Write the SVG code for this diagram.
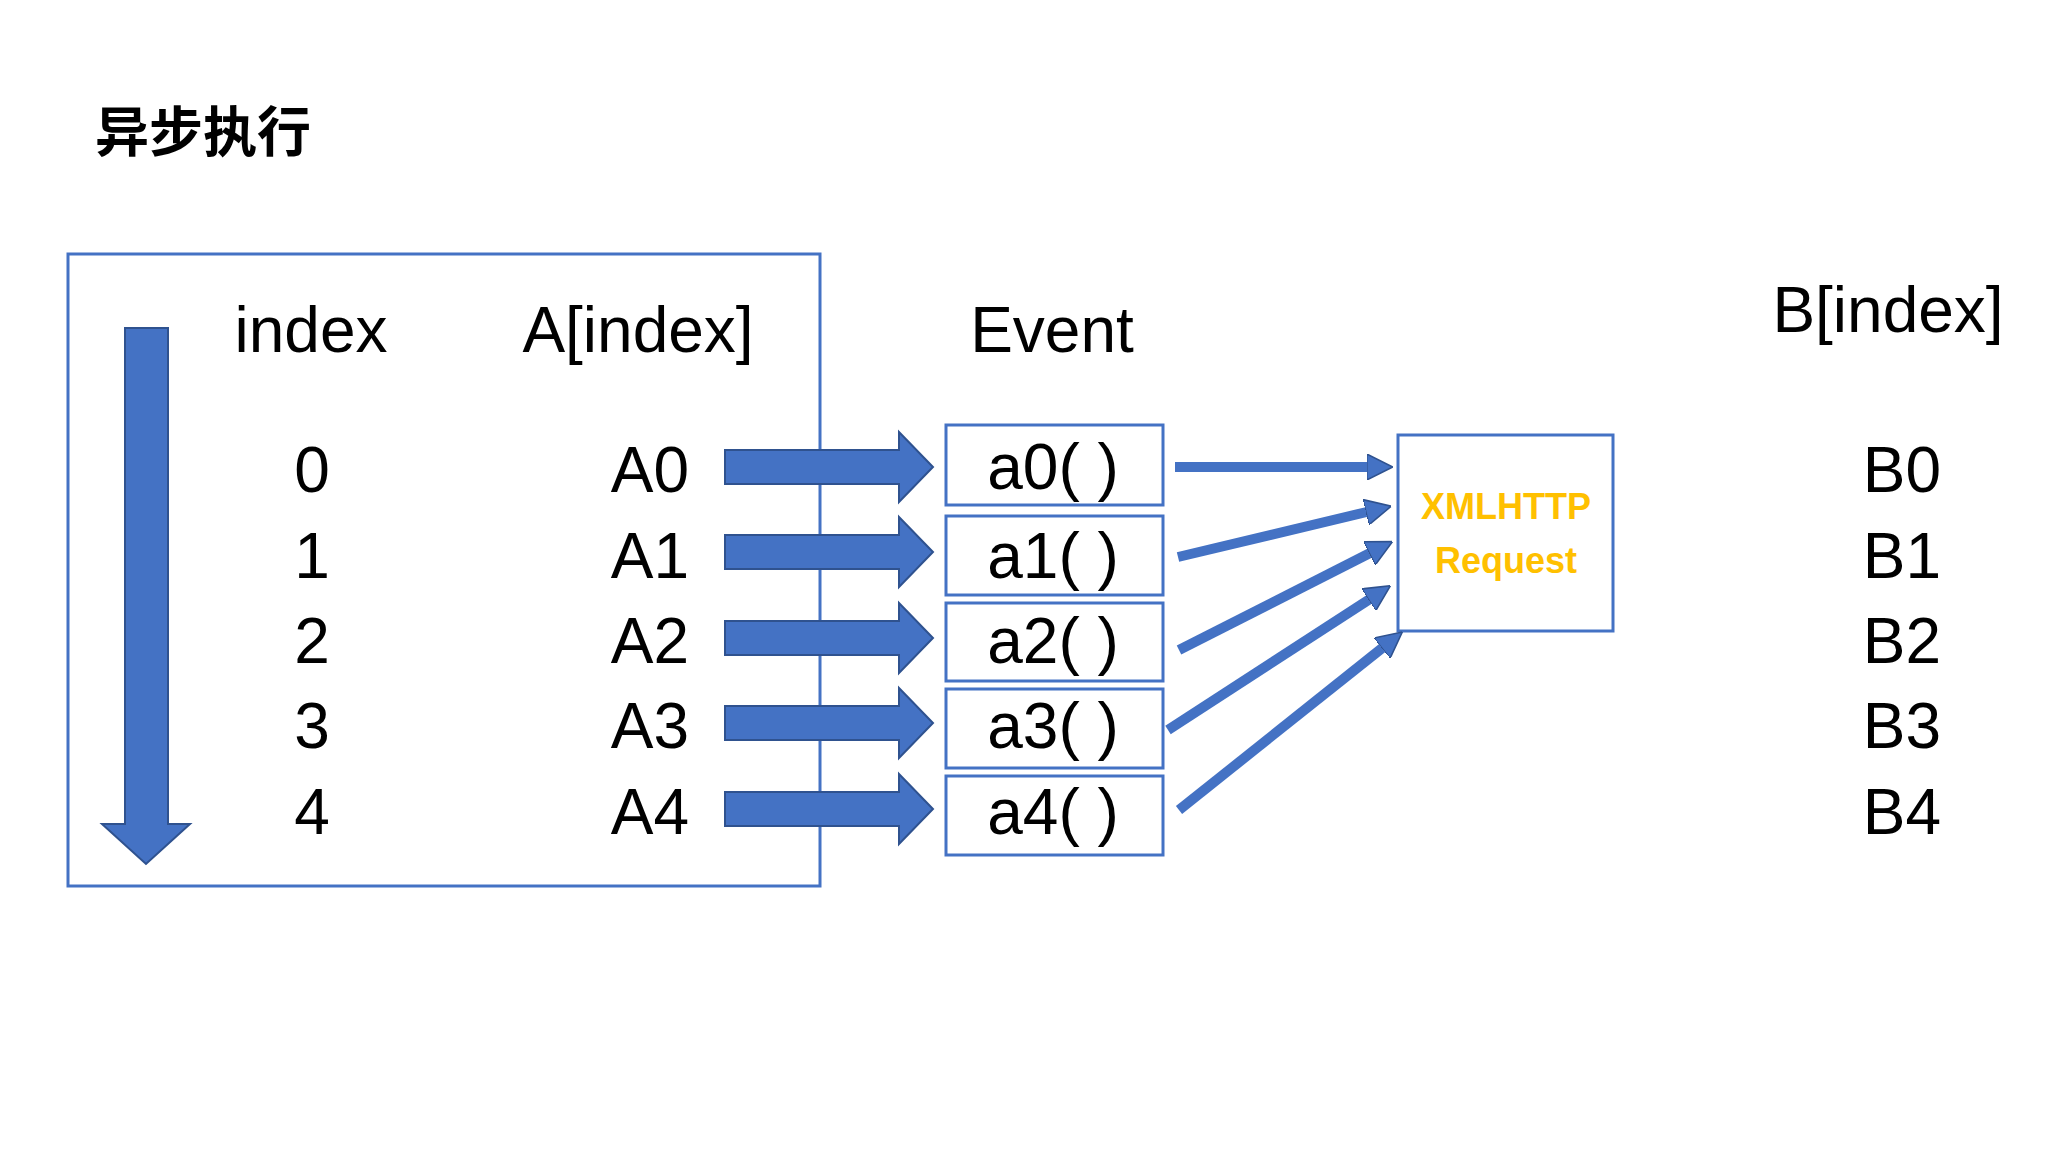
<svg xmlns="http://www.w3.org/2000/svg" width="2048" height="1152" viewBox="0 0 2048 1152">
<style>
.t{font-family:"Liberation Sans",Arial,sans-serif;font-size:64px;fill:#000;text-anchor:middle}
.box{fill:#fff;stroke:#4472C4;stroke-width:3}
.ba{fill:#4472C4;stroke:#2F528F;stroke-width:2}
.ln{stroke:#4472C4;stroke-width:10;fill:none;marker-end:url(#h)}
.x{font-family:"Liberation Sans",Arial,sans-serif;font-weight:bold;font-size:36px;fill:#FFC000;text-anchor:middle}
</style>
<defs>
<marker id="h" viewBox="0 0 10 10" refX="2" refY="5" markerWidth="2.6" markerHeight="2.6" orient="auto" markerUnits="strokeWidth">
<path d="M0,0 L10,5 L0,10 Z" fill="#4472C4" stroke="#2F528F" stroke-width="0.6"/>
</marker>
</defs>
<rect width="2048" height="1152" fill="#fff"/>
<text x="95" y="152" style="font-family:'Noto Sans CJK SC',sans-serif;font-weight:bold;font-size:54px">异步执行</text>
<g id="loop">
<rect class="box" x="68" y="254" width="752" height="632"/>
<path class="ba" d="M125,328 H168 V824 H190 L146,864 L102,824 H125 Z"/>
<text class="t" x="311" y="352">index</text>
<text class="t" x="638" y="352">A[index]</text>
<text class="t" x="312" y="492">0</text><text class="t" x="650" y="492">A0</text>
<text class="t" x="312" y="578">1</text><text class="t" x="650" y="578">A1</text>
<text class="t" x="312" y="663">2</text><text class="t" x="650" y="663">A2</text>
<text class="t" x="312" y="748">3</text><text class="t" x="650" y="748">A3</text>
<text class="t" x="312" y="834">4</text><text class="t" x="650" y="834">A4</text>
</g>
<g id="blockarrows">
<path class="ba" d="M725,450 H899 V432 L933,467 L899,502 V484 H725 Z"/>
<path class="ba" d="M725,535 H899 V517 L933,552 L899,587 V569 H725 Z"/>
<path class="ba" d="M725,621 H899 V603 L933,638 L899,673 V655 H725 Z"/>
<path class="ba" d="M725,706 H899 V688 L933,723 L899,758 V740 H725 Z"/>
<path class="ba" d="M725,792 H899 V774 L933,809 L899,844 V826 H725 Z"/>
</g>
<text class="t" x="1052" y="352">Event</text>
<g id="a0"><rect class="box" x="946" y="425" width="217" height="80"/><text class="t" x="1053" y="489">a0( )</text></g>
<g id="a1"><rect class="box" x="946" y="516" width="217" height="79"/><text class="t" x="1053" y="578">a1( )</text></g>
<g id="a2"><rect class="box" x="946" y="603" width="217" height="78"/><text class="t" x="1053" y="663">a2( )</text></g>
<g id="a3"><rect class="box" x="946" y="689" width="217" height="79"/><text class="t" x="1053" y="748">a3( )</text></g>
<g id="a4"><rect class="box" x="946" y="776" width="217" height="79"/><text class="t" x="1053" y="834">a4( )</text></g>
<g id="xhr"><rect class="box" x="1398" y="435" width="215" height="196"/>
<text class="x" x="1506" y="519">XMLHTTP</text><text class="x" x="1506" y="573">Request</text></g>
<g id="connectors">
<line class="ln" x1="1175" y1="467" x2="1372" y2="467"/>
<line class="ln" x1="1178" y1="557" x2="1371" y2="511"/>
<line class="ln" x1="1179" y1="650" x2="1374" y2="551"/>
<line class="ln" x1="1168" y1="730" x2="1373" y2="597"/>
<line class="ln" x1="1179" y1="810" x2="1386" y2="645"/>
</g>
<g id="B">
<text class="t" x="1888" y="332">B[index]</text>
<text class="t" x="1902" y="492">B0</text>
<text class="t" x="1902" y="578">B1</text>
<text class="t" x="1902" y="663">B2</text>
<text class="t" x="1902" y="748">B3</text>
<text class="t" x="1902" y="834">B4</text>
</g>
</svg>
